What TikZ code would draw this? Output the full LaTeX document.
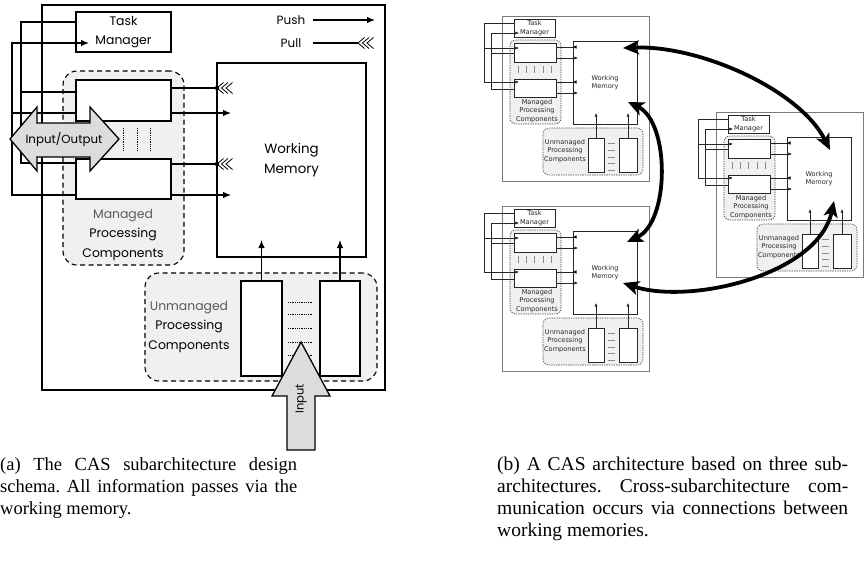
\documentclass[tikz,border=0pt]{standalone}
\usepackage{fontspec}
\setmainfont{Liberation Serif}
\newfontfamily\geofont{Poppins}
\newfontfamily\vera{DejaVu Sans}
\usetikzlibrary{arrows.meta,calc}
\definecolor{grpfill}{HTML}{F0F0F0}
\definecolor{arrfill}{HTML}{DCDCDC}
\definecolor{labgray}{HTML}{5A5A5A}
\definecolor{framegray}{HTML}{7A7A7A}
\definecolor{tickgray}{HTML}{8A8A8A}
\frenchspacing
\tikzset{
  bigtext/.style={font=\geofont\fontsize{12.4}{19.5}\selectfont},
  wmtext/.style={font=\geofont\fontsize{13.4}{19.5}\selectfont},
  captext/.style={font=\fontsize{18.5}{22}\selectfont, inner sep=0pt, anchor=base west},
  captextb/.style={font=\fontsize{19.5}{22}\selectfont, inner sep=0pt, anchor=base west},
  heavybox/.style={draw, line width=2.4pt, anchor=north west, inner sep=0pt, outer sep=0pt},
  plainbox/.style={draw, fill=white, line width=1.2pt, anchor=north west, inner sep=0pt, outer sep=0pt},
  grp/.style={draw, fill=grpfill, dash pattern=on 5pt off 3.5pt, rounded corners=14pt, line width=1.1pt, anchor=north west, inner sep=0pt, outer sep=0pt},
  wire/.style={line width=1.1pt},
  push/.style={wire, -{Latex[length=8pt,width=6.5pt]}},
  dots/.style={line width=1pt, dash pattern=on 0.7pt off 1.1pt},
  fatarrow/.style={draw, fill=arrfill, line width=1.3pt, line join=miter},
  pics/chev/.style={code={
     \foreach \d in {0,4.5,9}{\draw[line width=0.8pt] (\d+6.5,-5.5) -- (\d,0) -- (\d+6.5,5.5);}
  }},
  sframe/.style={draw=framegray, line width=0.8pt, anchor=north west, inner sep=0pt, outer sep=0pt},
  sbox/.style={draw=black!85, fill=white, line width=0.7pt, anchor=north west, inner sep=0pt, outer sep=0pt},
  sgrp/.style={draw=black!75, fill=grpfill, dash pattern=on 1.3pt off 1.1pt, rounded corners=6pt, line width=0.6pt, anchor=north west, inner sep=0pt, outer sep=0pt},
  stext/.style={font=\vera\fontsize{6.6}{8.6}\selectfont, text=black!85},
  swire/.style={line width=0.65pt, draw=black!85},
  spush/.style={swire, -{Latex[length=3.6pt,width=3.2pt]}},
  stick/.style={line width=0.6pt, draw=tickgray},
  wmlink/.style={line width=3.8pt, {Stealth[length=16pt,width=14pt,inset=4pt]}-{Stealth[length=16pt,width=14pt,inset=4pt]}},
}
\begin{document}
\begin{tikzpicture}[x=1pt, y=-1pt]
\useasboundingbox (0,0) rectangle (867,566);
% ---------------- (a) ----------------
\node[heavybox, minimum width=343pt, minimum height=385pt] (outerA) at (42,5) {};
\node[grp, minimum width=121pt, minimum height=194pt] (mgrp) at (63,71) {};
\node[grp, minimum width=232pt, minimum height=108pt] (ugrp) at (145,273) {};
\node[bigtext, align=center] (mlab) at (123,235) {\textcolor{labgray}{Managed}\\Processing\\Components};
\node[bigtext, align=center] (ulab) at (189,327) {\textcolor{labgray}{Unmanaged}\\Processing\\Components};
\node[plainbox, bigtext, align=center, minimum width=95pt, minimum height=40pt] (tm) at (76,12) {Task\\Manager};
\node[plainbox, minimum width=95pt, minimum height=41pt] (c1) at (76,80) {};
\node[plainbox, minimum width=95pt, minimum height=40pt] (c2) at (76,159) {};
\node[heavybox, wmtext, align=center, minimum width=149pt, minimum height=194pt] (wm) at (217,63) {Working\\Memory};
\node[plainbox, minimum width=41pt, minimum height=95pt] (ua) at (241,281) {};
\node[plainbox, minimum width=40pt, minimum height=95pt] (ub) at (320,281) {};
% left wiring
\draw[wire] (tm.west |- 0,22) -- (21,22) -- (21,163) -- (c2.west |- 0,163);
\draw[wire] (21,92) -- (c1.west |- 0,92);
\draw[push] (c2.west |- 0,195) -- (12,195) -- (12,43) -- (89,43);
\draw[wire] (12,113) -- (c1.west |- 0,113);
% right wiring
\foreach \n/\ya/\yb in {c1/88/113, c2/164/195}{
  \draw[wire] (\n.east |- 0,\ya) -- (wm.west |- 0,\ya);
  \fill (wm.west |- 0,\ya) circle (2.2pt);
  \path (wm.west |- 0,\ya) pic {chev};
  \draw[push] (\n.east |- 0,\yb) -- ($(wm.west |- 0,\yb)+(14,0)$);
}
% legend
\node[font=\geofont\fontsize{12}{14}\selectfont] (pushlab) at (291,20) {Push};
\node[font=\geofont\fontsize{12}{14}\selectfont] (pulllab) at (291,43) {Pull};
\coordinate (pushend) at (375,20);
\coordinate (pullend) at (358,43);
\draw[push] (313,20) -- (pushend);
\draw[wire] (313,43) -- (pullend);
\path (pullend) pic {chev};
% unmanaged
\draw[push] (ua.north) -- (ua.north |- 0,240);
\draw[push] (ub.north) -- (ub.north |- 0,240);
\foreach \x in {123,137,150} \draw[dots] (\x,128) -- (\x,150);
\foreach \y in {302,314,328,342,355} \draw[dots] (288,\y) -- (312,\y);
% big arrows
\draw[fatarrow] (10,139) -- (37,107) -- (37,123) -- (90,123) -- (90,107) -- (119,139) -- (90,171) -- (90,157) -- (37,157) -- (37,171) -- cycle;
\node[font=\geofont\fontsize{11.8}{14}\selectfont] (iolab) at (64,139) {Input/Output};
\draw[fatarrow] (301,342) -- (330,396) -- (315,396) -- (315,450) -- (287,450) -- (287,396) -- (272,396) -- cycle;
\node[rotate=90, font=\geofont\fontsize{11.5}{14}\selectfont] (inlab) at (301,399) {Input};
% ---------------- (b) ----------------
\foreach \i/\ox/\oy in {1/502/16, 2/502/206, 3/716/112}{
\begin{scope}[shift={(\ox,\oy)}]
  \node[sframe, minimum width=147pt, minimum height=165pt] (so\i) at (0,0) {};
  \node[sgrp, minimum width=51pt, minimum height=84pt] (smg\i) at (8,24) {};
  \node[sgrp, minimum width=100pt, minimum height=47pt] (sug\i) at (41,112) {};
  \node[stext, align=center] (sul\i) at (63,135) {Unmanaged\\Processing\\Components};
  \node[sbox, stext, align=center, minimum width=41pt, minimum height=18pt] (stm\i) at (12,3) {Task\\Manager};
  \node[sbox, minimum width=42pt, minimum height=19pt] (sca\i) at (12,27) {};
  \node[sbox, minimum width=42pt, minimum height=18pt] (scb\i) at (12,63) {};
  \node[stext, align=center] (sml\i) at (35,95) {Managed\\Processing\\Components};
  \node[sbox, stext, align=center, minimum width=64pt, minimum height=83pt] (swm\i) at (71,25) {Working\\Memory};
  \node[sbox, minimum width=16pt, minimum height=34pt] (sua\i) at (86,122) {};
  \node[sbox, minimum width=18pt, minimum height=34pt] (sub\i) at (117,122) {};
  \draw[swire] (stm\i.west |- 0,7) -- (-18,7) -- (-18,66);
  \draw[spush] (-18,66) -- (17,66);
  \draw[spush] (-18,32) -- (17,32);
  \draw[swire] (scb\i.west |- 0,73) -- (-11,73) -- (-11,17);
  \draw[spush] (-11,17) -- (17,17);
  \draw[swire] (-11,37) -- (sca\i.west |- 0,37);
  \foreach \n/\ya/\yb in {sca/31/42, scb/66/77}{
    \draw[swire] (\n\i.east |- 0,\ya) -- (swm\i.west |- 0,\ya);
    \fill ($(swm\i.west |- 0,\ya)$) -- ++(3.5,-1.7) -- ++(0,3.4) -- cycle;
    \draw[spush] (\n\i.east |- 0,\yb) -- ($(swm\i.west |- 0,\yb)+(5,0)$);
  }
  \draw[spush] (sua\i.north) -- (sua\i.north |- 0,97);
  \draw[spush] (sub\i.north) -- (sub\i.north |- 0,97);
  \foreach \k in {16,24,32,41,49} \draw[stick] (\k,50) -- (\k,57);
  \foreach \k in {127,134,141,147,154} \draw[stick] (106,\k) -- (113,\k);
\end{scope}
}
\coordinate (l1a) at (623,48);
\coordinate (l1b) at (830,150);
\coordinate (l2a) at (628,102);
\coordinate (l2b) at (627,242);
\coordinate (l3a) at (834,201);
\coordinate (l3b) at (623,283);
\draw[wmlink] (l1a) .. controls (700,45) and (800,90) .. (l1b);
\draw[wmlink] (l2a) .. controls (670,122) and (670,222) .. (l2b);
\draw[wmlink] (l3a) .. controls (818,275) and (690,305) .. (l3b);
% ---------------- captions ----------------
\node[captext] (ca1) at (0,470) {\makebox[297pt][s]{(a) The CAS subarchitecture design}};
\node[captext] (ca2) at (0,492) {\makebox[297pt][s]{schema. All information passes via the}};
\node[captext] (ca3) at (0,514) {working memory.};
\node[captextb] (cb1) at (497,470) {\makebox[351pt][s]{(b) A CAS architecture based on three sub-}};
\node[captextb] (cb2) at (497,492) {\makebox[351pt][s]{architectures. Cross-subarchitecture com-}};
\node[captextb] (cb3) at (497,514) {\makebox[351pt][s]{munication occurs via connections between}};
\node[captextb] (cb4) at (497,536) {working memories.};
\end{tikzpicture}
\end{document}
